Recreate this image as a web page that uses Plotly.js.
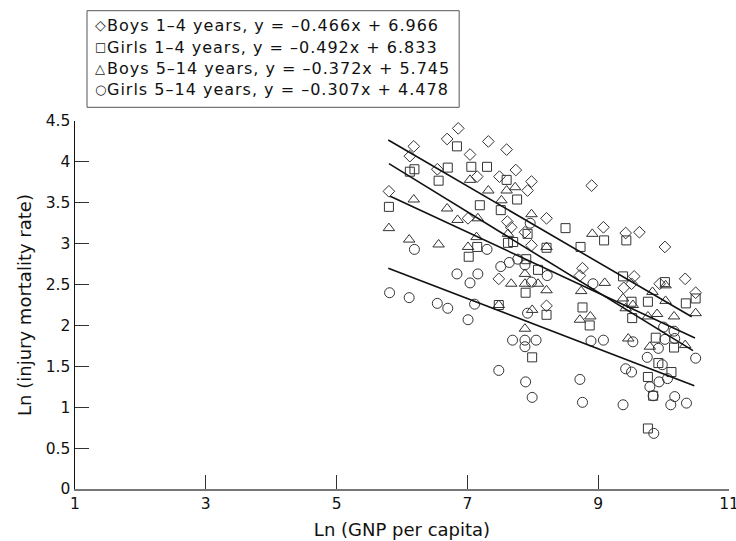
<!DOCTYPE html>
<html>
<head>
<meta charset="utf-8">
<script src="https://cdn.plot.ly/plotly-3.0.1.min.js"></script>
<style>
html,body{margin:0;padding:0;background:#fff;}
#chart{width:736px;height:541px;}
.annotation-text{letter-spacing:1px;}
</style>
</head>
<body>
<div id="chart"></div>
<script>
// Boys 1-4 years (diamonds)
var boys14X = [5.80,6.12,6.18,6.69,6.86,6.54,7.04,7.15,7.32,7.49,7.60,7.74,7.98,7.92,7.01,7.61,7.67,7.88,7.98,7.48,8.90,8.21,9.08,9.42,9.63,10.02,8.76,8.72,9.55,9.39,9.51,9.94,10.33,10.49,8.21];
var boys14Y = [3.64,4.07,4.19,4.28,4.41,3.91,4.09,3.82,4.25,3.82,4.15,3.90,3.76,3.65,3.31,3.27,3.20,3.14,2.98,2.57,3.71,3.31,3.20,3.13,3.14,2.96,2.70,2.61,2.60,2.46,2.51,2.51,2.57,2.40,2.24];
// Girls 1-4 years (squares)
var girls14X = [5.80,6.12,6.19,6.56,6.70,6.84,7.06,7.30,7.60,7.19,7.51,7.76,7.62,7.70,7.15,7.02,7.48,7.90,8.08,7.89,7.92,8.21,8.50,8.73,9.09,9.43,9.38,10.02,7.99,8.21,8.76,8.87,9.51,9.52,9.76,10.34,10.49,9.88,10.16,9.92,10.12,9.76,9.84,9.76];
var girls14Y = [3.45,3.88,3.91,3.77,3.93,4.19,3.94,3.94,3.78,3.47,3.41,3.54,3.01,3.02,2.96,2.84,2.25,2.81,2.68,2.40,3.12,2.95,3.19,2.96,3.04,3.04,2.60,2.53,1.61,2.13,2.22,2.00,2.29,2.09,2.29,2.27,2.33,1.85,1.73,1.54,1.43,1.37,1.14,0.74];
// Boys 5-14 years (triangles)
var boys514X = [5.80,6.11,6.18,6.56,6.69,6.85,7.04,7.01,7.14,7.16,7.32,7.52,7.60,7.73,7.62,7.98,7.48,7.67,7.88,7.88,8.08,7.99,7.88,8.21,8.21,8.91,8.74,9.10,8.72,8.88,9.38,9.53,9.42,9.83,10.03,10.03,9.76,9.90,10.16,10.49,9.46,9.79,10.33];
var boys514Y = [3.19,3.05,3.54,2.99,3.43,3.29,3.78,2.96,3.08,3.31,3.65,3.53,3.65,3.69,3.12,3.36,2.25,2.51,2.63,2.51,2.51,2.19,1.96,2.96,2.43,3.12,2.42,2.52,2.07,2.11,2.33,2.25,2.21,2.41,2.49,2.30,2.11,2.14,2.11,2.15,1.84,1.74,1.76];
// Girls 5-14 years (circles)
var girls514X = [5.81,6.11,6.19,6.54,6.70,6.84,7.01,7.04,7.11,7.16,7.30,7.51,7.64,7.77,7.88,7.96,7.98,7.92,7.69,7.88,8.05,7.88,7.48,7.89,7.99,8.22,8.92,8.89,9.08,9.53,9.42,9.51,8.72,8.76,9.38,10.00,10.16,10.02,10.17,9.92,9.75,9.98,10.49,9.79,9.93,10.06,9.84,10.17,10.11,10.35,9.85];
var girls514Y = [2.40,2.34,2.93,2.27,2.21,2.63,2.07,2.52,2.26,2.63,2.93,2.72,2.77,2.81,2.74,3.25,2.53,2.15,1.82,1.82,1.82,1.74,1.45,1.31,1.12,2.61,2.51,1.81,1.82,1.80,1.47,1.43,1.34,1.06,1.03,1.98,1.93,1.83,1.84,1.72,1.61,1.52,1.60,1.25,1.31,1.35,1.14,1.13,1.03,1.05,0.68];

var seriesNames = ["Boys 1\u20134 years, y = \u20130.466x + 6.966","Girls 1\u20134 years, y = \u20130.492x + 6.833","Boys 5\u201314 years, y = \u20130.372x + 5.745","Girls 5\u201314 years, y = \u20130.307x + 4.478"];
var legendGlyphs = ["\u25C7","\u25A1","\u25B3","\u25CB"];
var slopes = [-0.466,-0.492,-0.372,-0.307];
var intercepts = [6.966,6.833,5.745,4.478];
var lineStartX = [5.79,5.80,5.82,5.79];
var lineEndX = [10.43,10.45,10.48,10.47];
var xTickVals = [1,3,5,7,9,11];
var yTickVals = [0,0.5,1,1.5,2,2.5,3,3.5,4,4.5];
var yTickText = ["0","0.5","1","1.5","2","2.5","3","3.5","4","4.5"];

var xs = [boys14X, girls14X, boys514X, girls514X];
var ys = [boys14Y, girls14Y, boys514Y, girls514Y];
var symbols = ["diamond-open","square-open","triangle-up-open","circle-open"];
var sizes = [9,9,10,10];

var traces = [];
for (var i=0;i<4;i++){
  traces.push({
    type:"scatter", mode:"markers", x:xs[i], y:ys[i], name:seriesNames[i], showlegend:false,
    marker:{symbol:symbols[i], size:sizes[i], color:"#333", line:{width:1, color:"#333"}},
    cliponaxis:false
  });
}
for (var j=0;j<4;j++){
  var x0=lineStartX[j], x1=lineEndX[j];
  traces.push({
    type:"scatter", mode:"lines", x:[x0,x1],
    y:[slopes[j]*x0+intercepts[j], slopes[j]*x1+intercepts[j]],
    line:{color:"#111", width:1.6}, showlegend:false, hoverinfo:"skip"
  });
}

// layout geometry (pixels)
var W=736, H=541, ML=75.3, MR=7, MT=121, MB=52;
var PW=W-ML-MR, PH=H-MT-MB;
function px2x(p){ return (p-ML)/PW; }
function py2y(p){ return (H-MB-p)/PH; }

var fontFam = "DejaVu Sans, sans-serif";
var glyphSizes = [14,12,13,13];
var rowY = [25,46.7,68.3,89.3];
var annotations = [];
for (var k=0;k<4;k++){
  annotations.push({xref:"paper", yref:"paper", x:px2x(101), y:py2y(rowY[k]), xanchor:"center", yanchor:"middle",
    text:legendGlyphs[k], showarrow:false, font:{family:fontFam, size:glyphSizes[k], color:"#222"}});
  annotations.push({xref:"paper", yref:"paper", x:px2x(105.5), y:py2y(rowY[k]+0.5), xanchor:"left", yanchor:"middle",
    text:seriesNames[k], showarrow:false, font:{family:fontFam, size:16, color:"#111"}});
}
var shapes = [{type:"rect", xref:"paper", yref:"paper", x0:px2x(87.3), x1:px2x(459.3), y0:py2y(107.3), y1:py2y(10.7),
  line:{color:"#555", width:1}, fillcolor:"rgba(0,0,0,0)", layer:"above"}];

var layout = {
  width:W, height:H,
  margin:{l:ML, r:MR, t:MT, b:MB, pad:0},
  paper_bgcolor:"#fff", plot_bgcolor:"#fff",
  font:{family:fontFam, size:15.5, color:"#111"},
  showlegend:false,
  annotations:annotations, shapes:shapes,
  xaxis:{range:[1,11], tickvals:xTickVals, ticks:"inside", ticklen:14, tickwidth:1, tickcolor:"#333",
         ticklabeloverflow:"allow",
         showline:true, linecolor:"#777", linewidth:1.5, showgrid:false, zeroline:false,
         tickfont:{family:fontFam, size:15.5, color:"#111"},
         title:{text:"Ln (GNP per capita)", font:{family:fontFam, size:18, color:"#111"}, standoff:11}},
  yaxis:{range:[0,4.5], tickvals:yTickVals, ticktext:yTickText, ticks:"inside", ticklen:14, tickwidth:1, tickcolor:"#333",
         showline:true, linecolor:"#111", linewidth:1.5, showgrid:false, zeroline:false,
         tickfont:{family:fontFam, size:15.5, color:"#111"},
         title:{text:"Ln (injury mortality rate)", font:{family:fontFam, size:18, color:"#111"}, standoff:9}}
};
Plotly.newPlot("chart", traces, layout, {displayModeBar:false, staticPlot:true});
</script>
</body>
</html>
